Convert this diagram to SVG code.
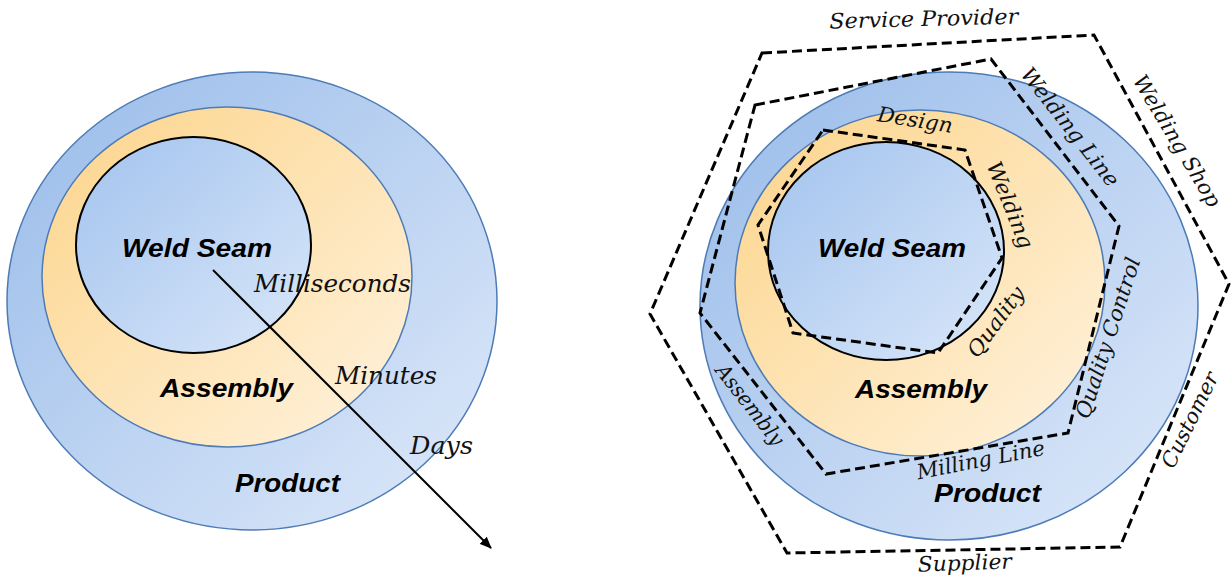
<svg xmlns="http://www.w3.org/2000/svg" width="1232" height="579" viewBox="0 0 1232 579">
<defs>
<linearGradient id="gBlue" x1="0" y1="0" x2="1" y2="1">
<stop offset="0" stop-color="#98bbe9"/>
<stop offset="1" stop-color="#dfeafa"/>
</linearGradient>
<linearGradient id="gYel" x1="0" y1="0" x2="1" y2="1">
<stop offset="0" stop-color="#fcd48a"/>
<stop offset="1" stop-color="#fff3df"/>
</linearGradient>
<linearGradient id="gIn" x1="0" y1="0" x2="1" y2="1">
<stop offset="0" stop-color="#a3c3ee"/>
<stop offset="1" stop-color="#d9e7f9"/>
</linearGradient>
<marker id="arr" viewBox="0 0 12 10" refX="11" refY="5" markerWidth="6" markerHeight="5" orient="auto" markerUnits="strokeWidth">
<path d="M0,0 L12,5 L0,10 z" fill="#000"/>
</marker>
<style>
.outer{fill:url(#gBlue);stroke:#4d7bb5;stroke-width:1.5}
.mid{fill:url(#gYel);stroke:#4d7bb5;stroke-width:1.5}
.inner{fill:url(#gIn);stroke:#000;stroke-width:2}
.bold{font-family:"Liberation Sans",Arial,sans-serif;font-weight:bold;font-style:italic;font-size:25px;fill:#000}
.lab{font-family:"DejaVu Serif","Liberation Serif",serif;font-style:italic;fill:#111}
.big{font-size:24px}
.sm{font-size:21px}
.dash{fill:none;stroke:#000;stroke-width:3;stroke-dasharray:10 5;stroke-linejoin:miter}
</style>
</defs>

<g id="left-diagram">
<g id="left-product"><ellipse class="outer" cx="252" cy="301" rx="245" ry="229"/></g>
<g id="left-assembly"><ellipse class="mid" cx="227" cy="277" rx="185" ry="170"/></g>
<g id="left-weldseam"><ellipse class="inner" cx="193.5" cy="245" rx="117.5" ry="108"/></g>
<text class="bold" x="122" y="257" textLength="150" lengthAdjust="spacingAndGlyphs">Weld Seam</text>
<text class="bold" x="160" y="397" textLength="133" lengthAdjust="spacingAndGlyphs">Assembly</text>
<text class="bold" x="235" y="492" textLength="105" lengthAdjust="spacingAndGlyphs">Product</text>
</g>

<g id="connectors">
<line x1="213" y1="270" x2="491" y2="548" stroke="#000" stroke-width="2" marker-end="url(#arr)"/>
</g>

<g id="left-labels">
<text class="lab big" x="254" y="292" textLength="157" lengthAdjust="spacingAndGlyphs">Milliseconds</text>
<text class="lab big" x="335" y="384" textLength="102" lengthAdjust="spacingAndGlyphs">Minutes</text>
<text class="lab big" x="410" y="454" textLength="63" lengthAdjust="spacingAndGlyphs">Days</text>
</g>

<g id="right-diagram">
<g id="right-product"><ellipse class="outer" cx="949" cy="306" rx="249" ry="234"/></g>
<g id="right-assembly"><ellipse class="mid" cx="920" cy="283" rx="185" ry="173"/></g>
<g id="right-weldseam"><ellipse class="inner" cx="886" cy="251" rx="118" ry="109"/></g>
<g id="hex-shop"><polygon class="dash" points="762,53 1094,35 1229,284 1120,547 787,553 650,314"/></g>
<g id="hex-line"><polygon class="dash" points="755,105 991,59 1119,226 1068,433 826,474 700,313"/></g>
<g id="hex-seam"><polygon class="dash" points="823,130 965,150 1002,258 938,353 793,333 758,225"/></g>
<text class="bold" x="818" y="257" textLength="148" lengthAdjust="spacingAndGlyphs">Weld Seam</text>
<text class="bold" x="855" y="398" textLength="132" lengthAdjust="spacingAndGlyphs">Assembly</text>
<text class="bold" x="934" y="502" textLength="107" lengthAdjust="spacingAndGlyphs">Product</text>
</g>

<g id="right-labels" text-anchor="middle">
<text class="lab sm" transform="translate(924,26) rotate(-1.5)" textLength="189" lengthAdjust="spacingAndGlyphs">Service Provider</text>
<text class="lab sm" transform="translate(1177,141) rotate(59)" y="7" textLength="150" lengthAdjust="spacingAndGlyphs">Welding Shop</text>
<text class="lab sm" transform="translate(1070,127) rotate(52)" y="7" textLength="145" lengthAdjust="spacingAndGlyphs">Welding Line</text>
<text class="lab sm" transform="translate(1108,338) rotate(-72)" y="7" textLength="168" lengthAdjust="spacingAndGlyphs">Quality Control</text>
<text class="lab sm" transform="translate(1190,420) rotate(-64)" y="7" textLength="104" lengthAdjust="spacingAndGlyphs">Customer</text>
<text class="lab sm" transform="translate(982,467) rotate(-11)" textLength="130" lengthAdjust="spacingAndGlyphs">Milling Line</text>
<text class="lab sm" transform="translate(965,570) rotate(-2)" textLength="94" lengthAdjust="spacingAndGlyphs">Supplier</text>
<text class="lab sm" transform="translate(750,405) rotate(52)" y="7" textLength="97" lengthAdjust="spacingAndGlyphs">Assembly</text>
<text class="lab sm" transform="translate(914,127) rotate(9)" textLength="76" lengthAdjust="spacingAndGlyphs">Design</text>
<text class="lab sm" transform="translate(1010,205) rotate(68)" y="7" textLength="92" lengthAdjust="spacingAndGlyphs">Welding</text>
<text class="lab sm" transform="translate(996,322) rotate(-54)" y="7" textLength="82" lengthAdjust="spacingAndGlyphs">Quality</text>
</g>
</svg>
